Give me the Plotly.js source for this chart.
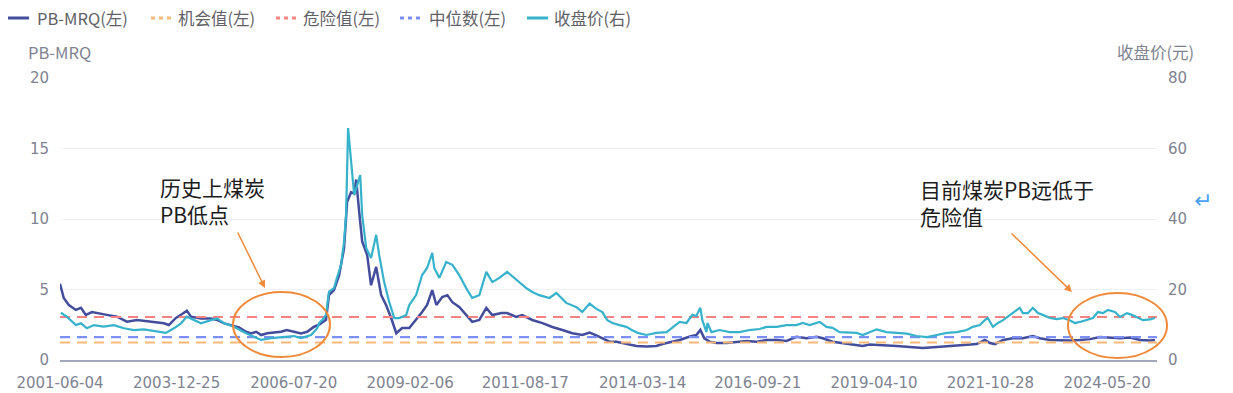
<!DOCTYPE html>
<html><head><meta charset="utf-8">
<script src="https://cdn.plot.ly/plotly-3.0.1.min.js"></script>
<style>html,body{margin:0;padding:0;background:#fff}#chart{width:1233px;height:393px}</style>
</head><body><div id="chart"></div>
<script>
// ---- data ----
const pbDates = ['2001-06-04','2001-07-04','2001-08-14','2001-10-09','2001-11-19','2001-12-28','2002-02-15','2002-04-11','2002-06-14','2002-09-03','2002-11-22','2003-02-11','2003-06-02','2003-09-14','2003-10-24','2003-12-19','2004-02-07','2004-03-16','2004-04-18','2004-07-07','2004-09-25','2004-11-13','2005-01-09','2005-03-04','2005-05-07','2005-07-03','2005-08-12','2005-09-22','2005-11-01','2005-12-19','2006-04-09','2006-05-26','2006-07-22','2006-09-16','2006-11-04','2006-12-30','2007-02-09','2007-04-04','2007-04-28','2007-06-07','2007-07-18','2007-08-27','2007-09-20','2007-10-22','2007-11-16','2007-12-02','2007-12-26','2008-01-19','2008-02-28','2008-03-30','2008-05-10','2008-06-19','2008-07-28','2008-09-07','2008-10-18','2008-12-04','2009-01-30','2009-03-26','2009-05-13','2009-06-22','2009-08-02','2009-09-04','2009-10-21','2009-12-01','2010-01-10','2010-03-06','2010-05-01','2010-06-18','2010-08-14','2010-10-09','2010-11-26','2011-02-07','2011-03-25','2011-06-06','2011-07-23','2011-10-12','2012-01-02','2012-03-20','2012-06-09','2012-08-28','2012-11-16','2013-01-13','2013-03-08','2013-04-25','2013-06-21','2013-08-16','2013-11-04','2014-01-24','2014-04-13','2014-07-02','2014-08-19','2014-11-08','2015-01-04','2015-03-22','2015-05-18','2015-06-19','2015-07-21','2015-09-01','2015-10-26','2016-01-15','2016-04-04','2016-06-23','2016-09-12','2016-12-01','2017-02-20','2017-05-09','2017-07-28','2017-10-17','2018-01-06','2018-02-24','2018-05-13','2018-08-02','2018-10-21','2019-01-10','2019-03-05','2019-06-18','2019-10-08','2020-01-21','2020-05-04','2020-08-25','2020-12-07','2021-03-19','2021-07-10','2021-09-13','2021-10-24','2021-12-03','2022-02-06','2022-04-25','2022-07-14','2022-10-03','2022-11-28','2023-02-17','2023-05-06','2023-07-25','2023-10-14','2024-01-04','2024-03-23','2024-06-11','2024-08-31','2024-11-19','2025-02-08','2025-04-28','2025-06-07'];
const pbValues = [5.4,4.4,3.9,3.55,3.7,3.2,3.4,3.33,3.2,3.07,2.72,2.84,2.72,2.6,2.48,2.98,3.26,3.5,3.07,2.95,2.95,2.84,2.6,2.48,2.32,2.0,1.89,2.0,1.77,1.89,2.0,2.13,2.0,1.89,2.0,2.36,2.5,2.85,4.6,4.96,6.0,7.94,11.2,11.9,11.8,12.8,10.5,8.4,7.45,5.3,6.6,4.6,3.9,2.98,1.9,2.27,2.27,2.84,3.4,3.9,4.96,3.9,4.47,4.6,4.1,3.76,3.19,2.7,2.84,3.69,3.19,3.33,3.33,3.05,3.19,2.84,2.62,2.34,2.13,1.9,1.77,1.95,1.75,1.54,1.3,1.3,1.13,1.0,0.95,1.0,1.13,1.3,1.42,1.65,1.77,2.13,1.54,1.3,1.2,1.2,1.3,1.35,1.3,1.42,1.42,1.35,1.65,1.54,1.65,1.54,1.3,1.2,1.13,1.0,1.1,1.06,1.0,0.92,0.85,0.92,1.0,1.06,1.13,1.42,1.2,1.13,1.42,1.54,1.54,1.7,1.54,1.42,1.38,1.38,1.42,1.48,1.63,1.6,1.54,1.6,1.42,1.38,1.42];

const closeDates = ['2001-06-11','2001-07-28','2001-10-09','2001-11-19','2002-01-06','2002-03-02','2002-05-20','2002-08-09','2002-10-29','2003-01-17','2003-04-06','2003-06-25','2003-09-30','2003-12-03','2004-01-29','2004-03-16','2004-05-12','2004-07-07','2004-09-25','2004-11-13','2005-01-09','2005-03-28','2005-07-03','2005-09-06','2005-11-01','2006-01-20','2006-05-03','2006-07-22','2006-09-16','2006-12-06','2007-01-24','2007-02-09','2007-03-05','2007-04-04','2007-04-28','2007-06-07','2007-07-01','2007-08-03','2007-08-27','2007-09-12','2007-09-28','2007-10-22','2007-11-16','2007-12-10','2008-01-03','2008-01-19','2008-02-20','2008-03-30','2008-05-10','2008-06-03','2008-07-13','2008-08-22','2008-10-02','2008-11-11','2009-01-06','2009-01-30','2009-03-26','2009-05-13','2009-06-22','2009-08-02','2009-08-18','2009-09-28','2009-11-22','2010-01-10','2010-03-06','2010-05-01','2010-06-18','2010-08-14','2010-10-09','2010-11-26','2011-01-22','2011-03-25','2011-05-20','2011-06-30','2011-08-25','2011-10-12','2011-12-07','2012-02-26','2012-04-22','2012-07-10','2012-09-30','2012-11-16','2013-01-13','2013-03-08','2013-04-25','2013-06-04','2013-07-15','2013-09-10','2013-11-04','2013-12-16','2014-02-02','2014-04-13','2014-07-02','2014-09-22','2014-11-08','2015-01-04','2015-02-28','2015-04-16','2015-05-18','2015-06-19','2015-07-05','2015-08-07','2015-08-15','2015-09-16','2015-11-19','2016-02-09','2016-04-28','2016-07-16','2016-10-06','2016-12-01','2017-02-20','2017-05-09','2017-07-28','2017-09-16','2017-11-10','2018-01-30','2018-03-25','2018-05-13','2018-07-08','2018-09-27','2018-11-22','2019-01-10','2019-03-05','2019-05-01','2019-07-19','2019-10-08','2019-12-28','2020-03-16','2020-06-05','2020-08-25','2020-11-13','2021-02-03','2021-04-22','2021-06-09','2021-08-04','2021-09-13','2021-10-07','2021-11-17','2021-12-27','2022-02-06','2022-04-02','2022-05-11','2022-06-20','2022-07-14','2022-08-24','2022-10-03','2022-11-12','2022-12-22','2023-02-17','2023-04-13','2023-05-30','2023-07-25','2023-09-04','2023-10-14','2023-12-10','2024-01-27','2024-03-07','2024-04-16','2024-05-26','2024-07-21','2024-08-31','2024-10-26','2024-12-04','2025-01-14','2025-03-02','2025-04-28','2025-06-07'];
const closeValues = [13.4,12.3,9.9,10.4,9.0,9.9,9.45,9.9,9.0,8.5,8.7,8.2,7.7,9.0,10.4,12.3,11.3,10.4,11.3,11.8,10.4,9.45,7.6,6.6,5.7,6.2,6.6,6.8,6.2,7.1,9.0,10.5,11.3,12.8,19.4,20.4,23.3,27,33.6,41.1,65.8,55.3,46.8,49.6,52.5,41.1,31.8,28.9,35.5,29.8,22.1,16.5,11.9,11.9,12.8,15.6,18.4,24.1,26.1,30.4,26.1,23.3,27.8,27,24.1,20.4,17.6,18.4,25,22.1,23.3,25,23.3,22.1,20.4,19.3,18.4,17.6,19.0,16.2,15.0,13.6,16.0,14.5,13.6,11.3,10.5,9.9,9.4,8.5,7.7,7.1,7.7,7.9,9.1,10.8,10.5,12.8,12.5,14.8,11.3,7.9,10.5,7.9,8.5,7.9,7.9,8.5,8.8,9.4,9.4,9.9,9.9,10.5,9.9,10.8,9.4,9.1,7.9,7.9,7.7,7.1,7.8,8.7,7.9,7.7,7.5,6.8,6.5,7.1,7.7,7.9,8.5,9.4,9.9,11.3,11.9,9.4,10.5,11.3,12.8,13.6,14.8,13.3,13.3,14.8,13.3,12.8,11.9,11.6,11.9,11.3,10.5,10.8,11.3,11.9,13.6,13.3,14.2,13.6,12.2,13.3,12.8,12.2,11.3,11.5,11.9];

const seriesNames = ['PB-MRQ(左)','机会值(左)','危险值(左)','中位数(左)','收盘价(右)'];
const levelNames = ['机会值(左)','危险值(左)','中位数(左)'];
const levelValues = [1.24, 3.05, 1.62];
const xRange = ['2001-06-04','2025-06-23'];
const xTickDates = ['2001-06-04','2003-12-25','2006-07-20','2009-02-06','2011-08-17','2014-03-14','2016-09-21','2019-04-10','2021-10-28','2024-05-20'];
const leftTicks = [0,5,10,15,20];
const rightTicks = [0,20,40,60,80];

// ---- styling ----
const FONT = '"Noto Sans CJK SC", "Noto Sans", sans-serif';
const TICKFONT = '"DejaVu Sans", sans-serif';
const navy = '#434d9c', teal = '#36b2cb';
const levelColors = ['#f8b878', '#f58383', '#7d8ff2'];
const seriesColors = [navy, levelColors[0], levelColors[1], levelColors[2], teal];
const seriesDash = ['solid', '4px,4px', '4px,4px', '4px,4px', 'solid'];
const L = 60, R = 1157, T = 78, B = 360;
const px = x => (x - L) / (R - L);
const py = y => (B - y) / (B - T);
const tickColor = '#7f8391';

const traces = [];
traces.push({x: closeDates, y: closeValues, yaxis: 'y2', type: 'scatter', mode: 'lines',
  name: seriesNames[4], line: {color: teal, width: 2.2}});
traces.push({x: pbDates, y: pbValues, type: 'scatter', mode: 'lines',
  name: seriesNames[0], line: {color: navy, width: 2.5}});
levelNames.forEach((n, i) => {
  traces.push({x: xRange, y: [levelValues[i], levelValues[i]], type: 'scatter', mode: 'lines',
    name: n, line: {color: levelColors[i], width: 2.2, dash: '10px,7px'}});
});

// custom legend (icon start/end px, text start px)
const legIcon = [[8, 29], [151, 171], [276, 296], [400, 421], [527, 548]];
const legText = [35, 176, 301, 427, 552];
const legY = 18;

const shapes = [
  {type: 'circle', xref: 'paper', yref: 'paper', x0: px(233), x1: px(330), y0: py(357), y1: py(292),
    line: {color: '#ef8a3a', width: 2}},
  {type: 'circle', xref: 'paper', yref: 'paper', x0: px(1068), x1: px(1167), y0: py(358), y1: py(293),
    line: {color: '#ef8a3a', width: 2}}
];
const annotations = [];
seriesNames.forEach((n, i) => {
  shapes.push({type: 'line', xref: 'paper', yref: 'paper', x0: px(legIcon[i][0]), x1: px(legIcon[i][1]),
    y0: py(legY), y1: py(legY), line: {color: seriesColors[i], width: 3, dash: seriesDash[i]}});
  annotations.push({xref: 'paper', yref: 'paper', x: px(legText[i]), y: py(legY), xanchor: 'left', yanchor: 'middle',
    showarrow: false, text: n, font: {family: FONT, size: 16.5, color: '#5f6166'}});
});

const annFont = {family: FONT, size: 21, color: '#1c1c1c'};
annotations.push(
  {xref: 'paper', yref: 'paper', x: px(26), y: py(52), xanchor: 'left', yanchor: 'middle', showarrow: false,
    text: 'PB-MRQ', font: {family: FONT, size: 16.5, color: tickColor}},
  {xref: 'paper', yref: 'paper', x: px(1196), y: py(52), xanchor: 'right', yanchor: 'middle', showarrow: false,
    text: '收盘价(元)', font: {family: FONT, size: 16.5, color: tickColor}},
  {xref: 'paper', yref: 'paper', x: px(158), y: py(170), xanchor: 'left', yanchor: 'top', showarrow: false,
    align: 'left', text: '历史上煤炭<br>PB低点', font: annFont},
  {xref: 'paper', yref: 'paper', x: px(918), y: py(172), xanchor: 'left', yanchor: 'top', showarrow: false,
    align: 'left', text: '目前煤炭PB远低于<br>危险值', font: annFont},
  {xref: 'paper', yref: 'paper', x: px(265), y: py(288), ax: -28, ay: -57, showarrow: true, text: '',
    arrowhead: 2, arrowsize: 1, arrowwidth: 1.5, arrowcolor: '#ef8a3a'},
  {xref: 'paper', yref: 'paper', x: px(1072), y: py(292), ax: -62, ay: -60, showarrow: true, text: '',
    arrowhead: 2, arrowsize: 1, arrowwidth: 1.5, arrowcolor: '#ef8a3a'},
  {xref: 'paper', yref: 'paper', x: px(1214), y: py(200), showarrow: false, text: '↵',
    font: {family: 'DejaVu Sans', size: 22, color: '#4a9ff5'}}
);

const layout = {
  width: 1233, height: 393,
  margin: {l: L, r: 1233 - R, t: T, b: 393 - B, autoexpand: false},
  paper_bgcolor: '#fff', plot_bgcolor: '#fff',
  font: {family: FONT, size: 16, color: tickColor},
  showlegend: false,
  xaxis: {type: 'date', range: xRange, tickvals: xTickDates, ticktext: xTickDates, automargin: false,
    showgrid: false, zeroline: false, showline: true, linecolor: '#a3a7ba', linewidth: 2,
    ticks: '', tickfont: {family: TICKFONT, size: 15, color: tickColor}, ticklabelstandoff: 8},
  yaxis: {range: [0, 20], tickvals: leftTicks, showgrid: true, gridcolor: '#eff0f7', gridwidth: 1, automargin: false,
    zeroline: false, showline: false, ticks: '', ticklabelstandoff: 10,
    tickfont: {family: TICKFONT, size: 15, color: tickColor}},
  yaxis2: {range: [0, 80], tickvals: rightTicks, overlaying: 'y', side: 'right', showgrid: false, automargin: false,
    zeroline: false, showline: false, ticks: '', ticklabelstandoff: 10,
    tickfont: {family: TICKFONT, size: 15, color: tickColor}},
  shapes: shapes,
  annotations: annotations
};

Plotly.newPlot('chart', traces, layout, {displayModeBar: false, staticPlot: true});
</script>
</body></html>
